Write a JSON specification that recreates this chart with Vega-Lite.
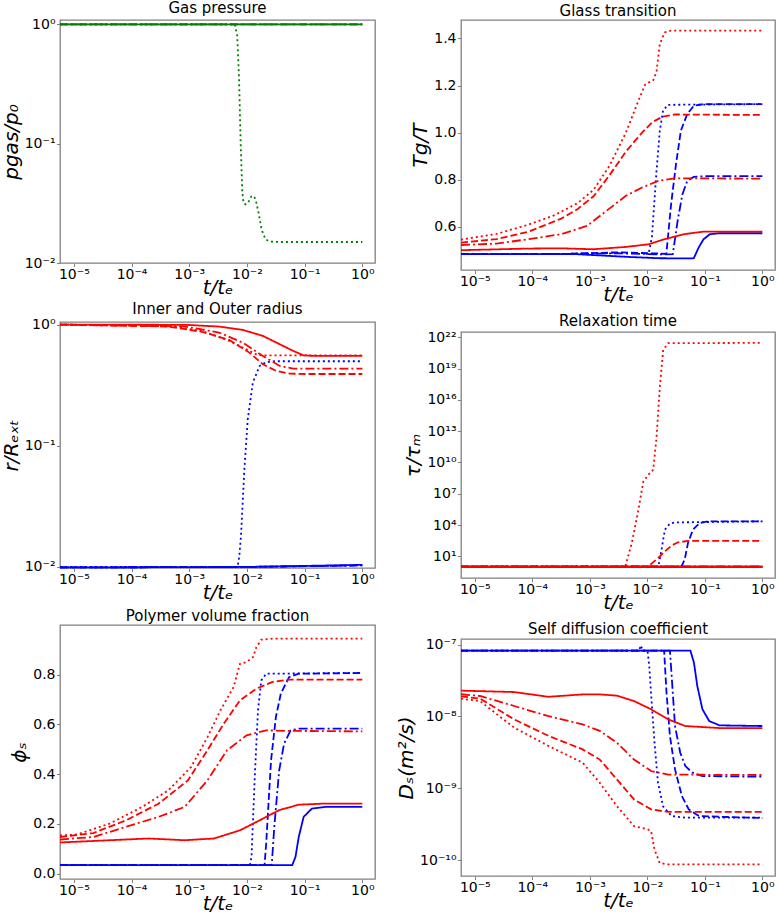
{
"$schema": "https://vega.github.io/schema/vega-lite/v6.json",
"background": "white",
"padding": {"left": 0, "top": 0, "right": 0, "bottom": 0},
"config": {
  "view": {"stroke": "#808080", "strokeWidth": 1.3},
  "axis": {"domain": false, "grid": false, "tickColor": "#808080", "tickSize": 3.5, "tickWidth": 1,
    "labelFont": "DejaVu Sans", "labelFontSize": 14, "labelColor": "black", "labelPadding": 1.5, "labelFlush": false, "labelOverlap": false,
    "titleFont": "DejaVu Sans", "titleFontSize": 20, "titleFontStyle": "italic", "titleFontWeight": "normal", "titleColor": "black"},
  "axisY": {"titlePadding": 3},
  "axisX": {"titlePadding": -4, "labelPadding": 0.5},
  "title": {"font": "DejaVu Sans", "fontSize": 15, "fontWeight": "normal", "offset": 1, "color": "black"},
  "line": {"strokeWidth": 1.8, "clip": true}
},
"datasets": {
  "gas": [
    {"m":"C","k":1,"t":5.75e-6,"v":1},{"m":"C","k":1,"t":1,"v":1},
    {"m":"C","k":2,"t":5.75e-6,"v":1},{"m":"C","k":2,"t":1,"v":1},
    {"m":"C","k":3,"t":5.75e-6,"v":1},{"m":"C","k":3,"t":1,"v":1},
    {"m":"C","k":4,"t":5.75e-6,"v":1},{"m":"C","k":4,"t":0.0062,"v":1},{"m":"C","k":4,"t":0.0068,"v":0.8},{"m":"C","k":4,"t":0.0073,"v":0.35},{"m":"C","k":4,"t":0.0078,"v":0.1},{"m":"C","k":4,"t":0.0083,"v":0.04},{"m":"C","k":4,"t":0.0087,"v":0.032},{"m":"C","k":4,"t":0.0095,"v":0.031},{"m":"C","k":4,"t":0.0105,"v":0.032},{"m":"C","k":4,"t":0.0118,"v":0.036},{"m":"C","k":4,"t":0.013,"v":0.0365},{"m":"C","k":4,"t":0.0142,"v":0.034},{"m":"C","k":4,"t":0.016,"v":0.026},{"m":"C","k":4,"t":0.018,"v":0.019},{"m":"C","k":4,"t":0.021,"v":0.0158},{"m":"C","k":4,"t":0.025,"v":0.0151},{"m":"C","k":4,"t":0.04,"v":0.015},{"m":"C","k":4,"t":1,"v":0.015}
  ],
  "tg": [
    {"m":"B","k":1,"t":5.75e-6,"v":0.484},{"m":"B","k":1,"t":6.07e-4,"v":0.484},{"m":"B","k":1,"t":4.24e-3,"v":0.473},{"m":"B","k":1,"t":0.01549,"v":0.467},{"m":"B","k":1,"t":0.0564,"v":0.466},{"m":"B","k":1,"t":0.0643,"v":0.467},{"m":"B","k":1,"t":0.078,"v":0.512},{"m":"B","k":1,"t":0.0946,"v":0.547},{"m":"B","k":1,"t":0.1227,"v":0.569},{"m":"B","k":1,"t":0.181,"v":0.573},{"m":"B","k":1,"t":1,"v":0.573},
    {"m":"B","k":4,"t":5.75e-6,"v":0.484},{"m":"B","k":4,"t":3.18e-4,"v":0.485},{"m":"B","k":4,"t":3.0e-3,"v":0.49},{"m":"B","k":4,"t":8.09e-3,"v":0.49},{"m":"B","k":4,"t":0.01047,"v":0.484},{"m":"B","k":4,"t":0.012,"v":0.556},{"m":"B","k":4,"t":0.01445,"v":0.838},{"m":"B","k":4,"t":0.01648,"v":1.008},{"m":"B","k":4,"t":0.01875,"v":1.093},{"m":"B","k":4,"t":0.0229,"v":1.118},{"m":"B","k":4,"t":1,"v":1.121},
    {"m":"B","k":2,"t":5.75e-6,"v":0.484},{"m":"B","k":2,"t":3.18e-4,"v":0.485},{"m":"B","k":2,"t":3.0e-3,"v":0.492},{"m":"B","k":2,"t":0.015,"v":0.487},{"m":"B","k":2,"t":0.0214,"v":0.485},{"m":"B","k":2,"t":0.0259,"v":0.696},{"m":"B","k":2,"t":0.0315,"v":0.866},{"m":"B","k":2,"t":0.0383,"v":1.008},{"m":"B","k":2,"t":0.0495,"v":1.079},{"m":"B","k":2,"t":0.0643,"v":1.114},{"m":"B","k":2,"t":0.0946,"v":1.121},{"m":"B","k":2,"t":1,"v":1.121},
    {"m":"B","k":3,"t":5.75e-6,"v":0.484},{"m":"B","k":3,"t":3.18e-4,"v":0.485},{"m":"B","k":3,"t":3.0e-3,"v":0.488},{"m":"B","k":3,"t":0.02,"v":0.483},{"m":"B","k":3,"t":0.0277,"v":0.484},{"m":"B","k":3,"t":0.0336,"v":0.625},{"m":"B","k":3,"t":0.0408,"v":0.739},{"m":"B","k":3,"t":0.0495,"v":0.795},{"m":"B","k":3,"t":0.0643,"v":0.812},{"m":"B","k":3,"t":0.0946,"v":0.815},{"m":"B","k":3,"t":1,"v":0.815},
    {"m":"A","k":4,"t":5.75e-6,"v":0.546},{"m":"A","k":4,"t":2.38e-5,"v":0.57},{"m":"A","k":4,"t":8.69e-5,"v":0.61},{"m":"A","k":4,"t":2.45e-4,"v":0.65},{"m":"A","k":4,"t":6.07e-4,"v":0.7},{"m":"A","k":4,"t":1.16e-3,"v":0.757},{"m":"A","k":4,"t":2.21e-3,"v":0.86},{"m":"A","k":4,"t":4.24e-3,"v":1.0},{"m":"A","k":4,"t":7.11e-3,"v":1.14},{"m":"A","k":4,"t":9.2e-3,"v":1.205},{"m":"A","k":4,"t":0.01274,"v":1.223},{"m":"A","k":4,"t":0.01445,"v":1.26},{"m":"A","k":4,"t":0.01648,"v":1.376},{"m":"A","k":4,"t":0.02,"v":1.425},{"m":"A","k":4,"t":0.0259,"v":1.433},{"m":"A","k":4,"t":1,"v":1.433},
    {"m":"A","k":2,"t":5.75e-6,"v":0.533},{"m":"A","k":2,"t":2.38e-5,"v":0.548},{"m":"A","k":2,"t":8.69e-5,"v":0.58},{"m":"A","k":2,"t":3.18e-4,"v":0.635},{"m":"A","k":2,"t":6.07e-4,"v":0.675},{"m":"A","k":2,"t":1.16e-3,"v":0.73},{"m":"A","k":2,"t":2.21e-3,"v":0.82},{"m":"A","k":2,"t":4.24e-3,"v":0.92},{"m":"A","k":2,"t":8.09e-3,"v":1.0},{"m":"A","k":2,"t":0.0123,"v":1.045},{"m":"A","k":2,"t":0.0185,"v":1.068},{"m":"A","k":2,"t":0.03,"v":1.077},{"m":"A","k":2,"t":1,"v":1.075},
    {"m":"A","k":3,"t":5.75e-6,"v":0.523},{"m":"A","k":3,"t":2.38e-5,"v":0.529},{"m":"A","k":3,"t":8.69e-5,"v":0.548},{"m":"A","k":3,"t":3.18e-4,"v":0.569},{"m":"A","k":3,"t":8.95e-4,"v":0.604},{"m":"A","k":3,"t":1.95e-3,"v":0.668},{"m":"A","k":3,"t":4.24e-3,"v":0.732},{"m":"A","k":3,"t":8.09e-3,"v":0.767},{"m":"A","k":3,"t":0.01549,"v":0.795},{"m":"A","k":3,"t":0.0295,"v":0.806},{"m":"A","k":3,"t":1,"v":0.805},
    {"m":"A","k":1,"t":5.75e-6,"v":0.501},{"m":"A","k":1,"t":8.69e-5,"v":0.508},{"m":"A","k":1,"t":3.18e-4,"v":0.509},{"m":"A","k":1,"t":1.16e-3,"v":0.505},{"m":"A","k":1,"t":4.24e-3,"v":0.515},{"m":"A","k":1,"t":0.01047,"v":0.526},{"m":"A","k":1,"t":0.02,"v":0.548},{"m":"A","k":1,"t":0.0436,"v":0.569},{"m":"A","k":1,"t":0.0946,"v":0.58},{"m":"A","k":1,"t":1,"v":0.58}
  ],
  "rad": [
    {"m":"B","k":1,"t":5.75e-6,"v":0.0099},{"m":"B","k":1,"t":0.01,"v":0.01},{"m":"B","k":1,"t":1,"v":0.0104},
    {"m":"B","k":2,"t":5.75e-6,"v":0.0099},{"m":"B","k":2,"t":0.01,"v":0.01},{"m":"B","k":2,"t":1,"v":0.0103},
    {"m":"B","k":3,"t":5.75e-6,"v":0.0099},{"m":"B","k":3,"t":0.01,"v":0.01},{"m":"B","k":3,"t":1,"v":0.0103},
    {"m":"B","k":4,"t":5.75e-6,"v":0.01},{"m":"B","k":4,"t":6.9e-3,"v":0.01},{"m":"B","k":4,"t":7.38e-3,"v":0.0123},{"m":"B","k":4,"t":7.89e-3,"v":0.018},{"m":"B","k":4,"t":8.44e-3,"v":0.0339},{"m":"B","k":4,"t":9.03e-3,"v":0.064},{"m":"B","k":4,"t":0.01033,"v":0.165},{"m":"B","k":4,"t":0.01265,"v":0.332},{"m":"B","k":4,"t":0.01655,"v":0.455},{"m":"B","k":4,"t":0.02163,"v":0.49},{"m":"B","k":4,"t":0.03,"v":0.498},{"m":"B","k":4,"t":1,"v":0.498},
    {"m":"A","k":1,"t":5.75e-6,"v":1},{"m":"A","k":1,"t":8.57e-4,"v":0.995},{"m":"A","k":1,"t":3.29e-3,"v":0.963},{"m":"A","k":1,"t":8.44e-3,"v":0.904},{"m":"A","k":1,"t":0.01892,"v":0.806},{"m":"A","k":1,"t":0.0371,"v":0.688},{"m":"A","k":1,"t":0.0635,"v":0.606},{"m":"A","k":1,"t":0.095,"v":0.558},{"m":"A","k":1,"t":0.142,"v":0.551},{"m":"A","k":1,"t":1,"v":0.551},
    {"m":"A","k":4,"t":5.75e-6,"v":1},{"m":"A","k":4,"t":4.38e-4,"v":0.975},{"m":"A","k":4,"t":1.68e-3,"v":0.886},{"m":"A","k":4,"t":4.93e-3,"v":0.733},{"m":"A","k":4,"t":8.44e-3,"v":0.646},{"m":"A","k":4,"t":0.01265,"v":0.587},{"m":"A","k":4,"t":0.01546,"v":0.56},{"m":"A","k":4,"t":0.02,"v":0.557},{"m":"A","k":4,"t":1,"v":0.557},
    {"m":"A","k":2,"t":5.75e-6,"v":1},{"m":"A","k":2,"t":4.38e-4,"v":0.963},{"m":"A","k":2,"t":1.68e-3,"v":0.87},{"m":"A","k":2,"t":4.93e-3,"v":0.747},{"m":"A","k":2,"t":0.01104,"v":0.587},{"m":"A","k":2,"t":0.01892,"v":0.47},{"m":"A","k":2,"t":0.0324,"v":0.414},{"m":"A","k":2,"t":0.0555,"v":0.394},{"m":"A","k":2,"t":0.1,"v":0.391},{"m":"A","k":2,"t":1,"v":0.391},
    {"m":"A","k":3,"t":5.75e-6,"v":1},{"m":"A","k":3,"t":8.57e-4,"v":0.963},{"m":"A","k":3,"t":3.29e-3,"v":0.859},{"m":"A","k":3,"t":8.44e-3,"v":0.71},{"m":"A","k":3,"t":0.01892,"v":0.551},{"m":"A","k":3,"t":0.0371,"v":0.455},{"m":"A","k":3,"t":0.0635,"v":0.433},{"m":"A","k":3,"t":1,"v":0.433}
  ],
  "tau": [
    {"m":"B","k":1,"t":5.75e-6,"v":1},{"m":"B","k":1,"t":1,"v":1},
    {"m":"B","k":3,"t":5.75e-6,"v":1},{"m":"B","k":3,"t":1,"v":1},
    {"m":"B","k":4,"t":5.75e-6,"v":1},{"m":"B","k":4,"t":0.01549,"v":1},{"m":"B","k":4,"t":0.01766,"v":43},{"m":"B","k":4,"t":0.02018,"v":3548},{"m":"B","k":4,"t":0.0246,"v":13500},{"m":"B","k":4,"t":0.03,"v":17800},{"m":"B","k":4,"t":1,"v":22400},
    {"m":"B","k":2,"t":5.75e-6,"v":1},{"m":"B","k":2,"t":0.0391,"v":1},{"m":"B","k":2,"t":0.0446,"v":4.8},{"m":"B","k":2,"t":0.0509,"v":186},{"m":"B","k":2,"t":0.0621,"v":3548},{"m":"B","k":2,"t":0.0809,"v":15500},{"m":"B","k":2,"t":0.1127,"v":22400},{"m":"B","k":2,"t":1,"v":22400},
    {"m":"A","k":3,"t":5.75e-6,"v":1},{"m":"A","k":3,"t":1,"v":1},
    {"m":"A","k":4,"t":5.75e-6,"v":1},{"m":"A","k":4,"t":4.12e-3,"v":1},{"m":"A","k":4,"t":5.37e-3,"v":186},{"m":"A","k":4,"t":7.0e-3,"v":2.95e5},{"m":"A","k":4,"t":8.53e-3,"v":1.51e8},{"m":"A","k":4,"t":0.0104,"v":6.6e8},{"m":"A","k":4,"t":0.01268,"v":2.0e9},{"m":"A","k":4,"t":0.01449,"v":3.1e12},{"m":"A","k":4,"t":0.01652,"v":1.9e17},{"m":"A","k":4,"t":0.01888,"v":6.2e20},{"m":"A","k":4,"t":0.023,"v":2.7e21},{"m":"A","k":4,"t":1,"v":2.9e21},
    {"m":"A","k":2,"t":5.75e-6,"v":1},{"m":"A","k":2,"t":9.12e-3,"v":1},{"m":"A","k":2,"t":0.0104,"v":1.1},{"m":"A","k":2,"t":0.01549,"v":6.9},{"m":"A","k":2,"t":0.02018,"v":30},{"m":"A","k":2,"t":0.0263,"v":105},{"m":"A","k":2,"t":0.0342,"v":219},{"m":"A","k":2,"t":0.0509,"v":295},{"m":"A","k":2,"t":1,"v":295},
    {"m":"A","k":1,"t":5.75e-6,"v":1},{"m":"A","k":1,"t":1,"v":1}
  ],
  "phi": [
    {"m":"B","k":1,"t":5.75e-6,"v":0.0335},{"m":"B","k":1,"t":0.061,"v":0.0335},{"m":"B","k":1,"t":0.0695,"v":0.067},{"m":"B","k":1,"t":0.0791,"v":0.147},{"m":"B","k":1,"t":0.0962,"v":0.228},{"m":"B","k":1,"t":0.133,"v":0.261},{"m":"B","k":1,"t":0.224,"v":0.268},{"m":"B","k":1,"t":1,"v":0.268},
    {"m":"B","k":4,"t":5.75e-6,"v":0.0335},{"m":"B","k":4,"t":0.01125,"v":0.0335},{"m":"B","k":4,"t":0.012,"v":0.067},{"m":"B","k":4,"t":0.01367,"v":0.389},{"m":"B","k":4,"t":0.01556,"v":0.657},{"m":"B","k":4,"t":0.01774,"v":0.777},{"m":"B","k":4,"t":0.02155,"v":0.804},{"m":"B","k":4,"t":1,"v":0.807},
    {"m":"B","k":2,"t":5.75e-6,"v":0.0335},{"m":"B","k":2,"t":0.0202,"v":0.0335},{"m":"B","k":2,"t":0.02155,"v":0.12},{"m":"B","k":2,"t":0.0262,"v":0.456},{"m":"B","k":2,"t":0.0318,"v":0.63},{"m":"B","k":2,"t":0.0387,"v":0.724},{"m":"B","k":2,"t":0.0536,"v":0.79},{"m":"B","k":2,"t":0.0791,"v":0.804},{"m":"B","k":2,"t":1,"v":0.807},
    {"m":"B","k":3,"t":5.75e-6,"v":0.0335},{"m":"B","k":3,"t":0.0269,"v":0.0335},{"m":"B","k":3,"t":0.0298,"v":0.188},{"m":"B","k":3,"t":0.0362,"v":0.415},{"m":"B","k":3,"t":0.0441,"v":0.523},{"m":"B","k":3,"t":0.0572,"v":0.576},{"m":"B","k":3,"t":0.0791,"v":0.583},{"m":"B","k":3,"t":1,"v":0.583},
    {"m":"A","k":4,"t":5.75e-6,"v":0.153},{"m":"A","k":4,"t":1.14e-5,"v":0.157},{"m":"A","k":4,"t":4.18e-5,"v":0.201},{"m":"A","k":4,"t":1.53e-4,"v":0.268},{"m":"A","k":4,"t":4.35e-4,"v":0.335},{"m":"A","k":4,"t":1.08e-3,"v":0.429},{"m":"A","k":4,"t":2.07e-3,"v":0.549},{"m":"A","k":4,"t":3.48e-3,"v":0.657},{"m":"A","k":4,"t":5.86e-3,"v":0.75},{"m":"A","k":4,"t":7.6e-3,"v":0.844},{"m":"A","k":4,"t":9.86e-3,"v":0.851},{"m":"A","k":4,"t":0.0128,"v":0.871},{"m":"A","k":4,"t":0.01459,"v":0.911},{"m":"A","k":4,"t":0.01774,"v":0.941},{"m":"A","k":4,"t":0.0279,"v":0.945},{"m":"A","k":4,"t":1,"v":0.945},
    {"m":"A","k":2,"t":5.75e-6,"v":0.147},{"m":"A","k":2,"t":2.18e-5,"v":0.163},{"m":"A","k":2,"t":8.01e-5,"v":0.214},{"m":"A","k":2,"t":2.94e-4,"v":0.281},{"m":"A","k":2,"t":9.49e-4,"v":0.375},{"m":"A","k":2,"t":2.07e-3,"v":0.496},{"m":"A","k":2,"t":3.97e-3,"v":0.603},{"m":"A","k":2,"t":7.6e-3,"v":0.697},{"m":"A","k":2,"t":0.01459,"v":0.744},{"m":"A","k":2,"t":0.0279,"v":0.771},{"m":"A","k":2,"t":0.0536,"v":0.78},{"m":"A","k":2,"t":1,"v":0.78},
    {"m":"A","k":3,"t":5.75e-6,"v":0.137},{"m":"A","k":3,"t":2.18e-5,"v":0.147},{"m":"A","k":3,"t":8.01e-5,"v":0.188},{"m":"A","k":3,"t":2.94e-4,"v":0.228},{"m":"A","k":3,"t":8.34e-4,"v":0.268},{"m":"A","k":3,"t":2.07e-3,"v":0.375},{"m":"A","k":3,"t":4.52e-3,"v":0.496},{"m":"A","k":3,"t":9.86e-3,"v":0.556},{"m":"A","k":3,"t":0.02155,"v":0.576},{"m":"A","k":3,"t":0.0536,"v":0.574},{"m":"A","k":3,"t":1,"v":0.572},
    {"m":"A","k":1,"t":5.75e-6,"v":0.125},{"m":"A","k":1,"t":4.18e-5,"v":0.134},{"m":"A","k":1,"t":1.99e-4,"v":0.141},{"m":"A","k":1,"t":8.34e-4,"v":0.134},{"m":"A","k":1,"t":2.69e-3,"v":0.141},{"m":"A","k":1,"t":7.6e-3,"v":0.174},{"m":"A","k":1,"t":0.0166,"v":0.214},{"m":"A","k":1,"t":0.0362,"v":0.255},{"m":"A","k":1,"t":0.0791,"v":0.277},{"m":"A","k":1,"t":0.197,"v":0.281},{"m":"A","k":1,"t":1,"v":0.281}
  ],
  "ds": [
    {"m":"B","k":1,"t":5.75e-6,"v":8.24e-8},{"m":"B","k":1,"t":0.0562,"v":8.24e-8},{"m":"B","k":1,"t":0.0646,"v":5.62e-8},{"m":"B","k":1,"t":0.074,"v":2.65e-8},{"m":"B","k":1,"t":0.0908,"v":1.26e-8},{"m":"B","k":1,"t":0.119,"v":8.65e-9},{"m":"B","k":1,"t":0.18,"v":7.52e-9},{"m":"B","k":1,"t":1,"v":7.36e-9},
    {"m":"B","k":4,"t":5.75e-6,"v":8.24e-8},{"m":"B","k":4,"t":0.0072,"v":8.24e-8},{"m":"B","k":4,"t":0.0077,"v":9.8e-8},{"m":"B","k":4,"t":0.0083,"v":8.3e-8},{"m":"B","k":4,"t":0.0101,"v":8.2e-8},{"m":"B","k":4,"t":0.0108,"v":5.0e-8},{"m":"B","k":4,"t":0.0116,"v":2.1e-8},{"m":"B","k":4,"t":0.01333,"v":4.32e-9},{"m":"B","k":4,"t":0.01531,"v":1.2e-9},{"m":"B","k":4,"t":0.01879,"v":5.6e-10},{"m":"B","k":4,"t":0.0265,"v":4.1e-10},{"m":"B","k":4,"t":0.0458,"v":3.9e-10},{"m":"B","k":4,"t":1,"v":3.9e-10},
    {"m":"B","k":2,"t":5.75e-6,"v":8.24e-8},{"m":"B","k":2,"t":0.01959,"v":8.24e-8},{"m":"B","k":2,"t":0.02155,"v":2.14e-8},{"m":"B","k":2,"t":0.0247,"v":5.37e-9},{"m":"B","k":2,"t":0.0303,"v":1.83e-9},{"m":"B","k":2,"t":0.0399,"v":7.8e-10},{"m":"B","k":2,"t":0.0525,"v":5.08e-10},{"m":"B","k":2,"t":0.0793,"v":4.1e-10},{"m":"B","k":2,"t":1,"v":3.85e-10},
    {"m":"B","k":3,"t":5.75e-6,"v":8.24e-8},{"m":"B","k":3,"t":0.0247,"v":8.24e-8},{"m":"B","k":3,"t":0.0265,"v":3.66e-8},{"m":"B","k":3,"t":0.0303,"v":7.36e-9},{"m":"B","k":3,"t":0.0373,"v":3.13e-9},{"m":"B","k":3,"t":0.0458,"v":2.04e-9},{"m":"B","k":3,"t":0.0602,"v":1.66e-9},{"m":"B","k":3,"t":0.0908,"v":1.48e-9},{"m":"B","k":3,"t":1,"v":1.45e-9},
    {"m":"A","k":1,"t":5.75e-6,"v":2.29e-8},{"m":"A","k":1,"t":4.84e-5,"v":2.19e-8},{"m":"A","k":1,"t":1.91e-4,"v":1.88e-8},{"m":"A","k":1,"t":7.5e-4,"v":2.03e-8},{"m":"A","k":1,"t":1.49e-3,"v":2.03e-8},{"m":"A","k":1,"t":2.95e-3,"v":1.95e-8},{"m":"A","k":1,"t":5.86e-3,"v":1.64e-8},{"m":"A","k":1,"t":0.01162,"v":1.26e-8},{"m":"A","k":1,"t":0.02307,"v":9.1e-9},{"m":"A","k":1,"t":0.0458,"v":7.36e-9},{"m":"A","k":1,"t":0.18,"v":6.9e-9},{"m":"A","k":1,"t":1,"v":6.9e-9},
    {"m":"A","k":3,"t":5.75e-6,"v":2.04e-8},{"m":"A","k":3,"t":1.23e-5,"v":1.93e-8},{"m":"A","k":3,"t":4.84e-5,"v":1.4e-8},{"m":"A","k":3,"t":1.91e-4,"v":1.01e-8},{"m":"A","k":3,"t":7.5e-4,"v":7.76e-9},{"m":"A","k":3,"t":1.49e-3,"v":6.3e-9},{"m":"A","k":3,"t":2.95e-3,"v":4.32e-9},{"m":"A","k":3,"t":5.86e-3,"v":2.51e-9},{"m":"A","k":3,"t":0.01162,"v":1.74e-9},{"m":"A","k":3,"t":0.02307,"v":1.55e-9},{"m":"A","k":3,"t":1,"v":1.53e-9},
    {"m":"A","k":2,"t":5.75e-6,"v":1.9e-8},{"m":"A","k":2,"t":1.23e-5,"v":1.78e-8},{"m":"A","k":2,"t":4.84e-5,"v":9.1e-9},{"m":"A","k":2,"t":1.91e-4,"v":5.37e-9},{"m":"A","k":2,"t":7.5e-4,"v":3.48e-9},{"m":"A","k":2,"t":1.49e-3,"v":2.51e-9},{"m":"A","k":2,"t":2.95e-3,"v":1.33e-9},{"m":"A","k":2,"t":5.86e-3,"v":7.0e-10},{"m":"A","k":2,"t":0.01162,"v":5.08e-10},{"m":"A","k":2,"t":0.02307,"v":4.68e-10},{"m":"A","k":2,"t":1,"v":4.68e-10},
    {"m":"A","k":4,"t":5.75e-6,"v":1.77e-8},{"m":"A","k":4,"t":1.23e-5,"v":1.64e-8},{"m":"A","k":4,"t":4.84e-5,"v":6.98e-9},{"m":"A","k":4,"t":1.91e-4,"v":3.89e-9},{"m":"A","k":4,"t":7.5e-4,"v":2.27e-9},{"m":"A","k":4,"t":1.49e-3,"v":1.19e-9},{"m":"A","k":4,"t":2.95e-3,"v":5.65e-10},{"m":"A","k":4,"t":5.86e-3,"v":2.98e-10},{"m":"A","k":4,"t":0.01014,"v":2.67e-10},{"m":"A","k":4,"t":0.01162,"v":2.54e-10},{"m":"A","k":4,"t":0.01333,"v":1.41e-10},{"m":"A","k":4,"t":0.01638,"v":9.1e-11},{"m":"A","k":4,"t":0.02307,"v":8.7e-11},{"m":"A","k":4,"t":1,"v":8.7e-11}
  ]
},
"hconcat": [
  {"vconcat": [
    {"title": "Gas pressure", "width": 315, "height": 243, "data": {"name": "gas"}, "mark": "line",
     "encoding": {
       "x": {"field": "t", "type": "quantitative", "scale": {"type": "log", "domain": [5.75e-6, 1.66], "nice": false}, "axis": {"values": [1e-5, 1e-4, 1e-3, 1e-2, 1e-1, 1], "labelExpr": "['10⁻⁵','10⁻⁴','10⁻³','10⁻²','10⁻¹','10⁰'][round(log(datum.value)/LN10)+5]", "title": "t/tₑ"}},
       "y": {"field": "v", "type": "quantitative", "scale": {"type": "log", "domain": [0.01, 1.09], "nice": false}, "axis": {"values": [0.01, 0.1, 1], "labelExpr": "['10⁻²','10⁻¹','10⁰'][round(log(datum.value)/LN10)+2]", "title": "pgas/p₀"}},
       "color": {"field": "m", "type": "nominal", "scale": {"domain": ["A", "B", "C"], "range": ["#ff0000", "#0000ff", "#008000"]}, "legend": null},
       "strokeDash": {"field": "k", "type": "nominal", "scale": {"domain": [1, 2, 3, 4], "range": [[1, 0], [7, 3], [9, 3, 2, 3], [2, 3]]}, "legend": null}
     }},
    {"vconcat": [
    {"title": "Inner and Outer radius", "width": 315, "height": 246, "data": {"name": "rad"}, "mark": "line",
     "encoding": {
       "x": {"field": "t", "type": "quantitative", "scale": {"type": "log", "domain": [5.75e-6, 1.66], "nice": false}, "axis": {"values": [1e-5, 1e-4, 1e-3, 1e-2, 1e-1, 1], "labelExpr": "['10⁻⁵','10⁻⁴','10⁻³','10⁻²','10⁻¹','10⁰'][round(log(datum.value)/LN10)+5]", "title": "t/tₑ"}},
       "y": {"field": "v", "type": "quantitative", "scale": {"type": "log", "domain": [0.0098, 1.05], "nice": false}, "axis": {"values": [0.01, 0.1, 1], "labelExpr": "['10⁻²','10⁻¹','10⁰'][round(log(datum.value)/LN10)+2]", "title": "r/Rₑₓₜ"}},
       "color": {"field": "m", "type": "nominal", "scale": {"domain": ["A", "B", "C"], "range": ["#ff0000", "#0000ff", "#008000"]}, "legend": null},
       "strokeDash": {"field": "k", "type": "nominal", "scale": {"domain": [1, 2, 3, 4], "range": [[1, 0], [7, 3], [9, 3, 2, 3], [2, 3]]}, "legend": null}
     }},
    {"title": "Polymer volume fraction", "width": 315, "height": 254, "data": {"name": "phi"}, "mark": "line",
     "encoding": {
       "x": {"field": "t", "type": "quantitative", "scale": {"type": "log", "domain": [5.75e-6, 1.66], "nice": false}, "axis": {"values": [1e-5, 1e-4, 1e-3, 1e-2, 1e-1, 1], "labelExpr": "['10⁻⁵','10⁻⁴','10⁻³','10⁻²','10⁻¹','10⁰'][round(log(datum.value)/LN10)+5]", "title": "t/tₑ"}},
       "y": {"field": "v", "type": "quantitative", "scale": {"domain": [-0.022, 1.0], "nice": false, "zero": false}, "axis": {"values": [0, 0.2, 0.4, 0.6, 0.8], "format": ".1f", "title": "ϕₛ"}},
       "color": {"field": "m", "type": "nominal", "scale": {"domain": ["A", "B", "C"], "range": ["#ff0000", "#0000ff", "#008000"]}, "legend": null},
       "strokeDash": {"field": "k", "type": "nominal", "scale": {"domain": [1, 2, 3, 4], "range": [[1, 0], [7, 3], [9, 3, 2, 3], [2, 3]]}, "legend": null}
     }}
    ], "spacing": 5, "align": "none"}
  ], "spacing": 2, "align": "none"},
  {"vconcat": [
    {"title": "Glass transition", "width": 314, "height": 250, "data": {"name": "tg"}, "mark": "line",
     "encoding": {
       "x": {"field": "t", "type": "quantitative", "scale": {"type": "log", "domain": [5.75e-6, 1.66], "nice": false}, "axis": {"values": [1e-5, 1e-4, 1e-3, 1e-2, 1e-1, 1], "labelExpr": "['10⁻⁵','10⁻⁴','10⁻³','10⁻²','10⁻¹','10⁰'][round(log(datum.value)/LN10)+5]", "title": "t/tₑ"}},
       "y": {"field": "v", "type": "quantitative", "scale": {"domain": [0.417, 1.478], "nice": false, "zero": false}, "axis": {"values": [0.6, 0.8, 1.0, 1.2, 1.4], "format": ".1f", "title": "Tg/T"}},
       "color": {"field": "m", "type": "nominal", "scale": {"domain": ["A", "B", "C"], "range": ["#ff0000", "#0000ff", "#008000"]}, "legend": null},
       "strokeDash": {"field": "k", "type": "nominal", "scale": {"domain": [1, 2, 3, 4], "range": [[1, 0], [7, 3], [9, 3, 2, 3], [2, 3]]}, "legend": null}
     }},
    {"title": "Relaxation time", "width": 314, "height": 246, "data": {"name": "tau"}, "mark": "line",
     "encoding": {
       "x": {"field": "t", "type": "quantitative", "scale": {"type": "log", "domain": [5.75e-6, 1.66], "nice": false}, "axis": {"values": [1e-5, 1e-4, 1e-3, 1e-2, 1e-1, 1], "labelExpr": "['10⁻⁵','10⁻⁴','10⁻³','10⁻²','10⁻¹','10⁰'][round(log(datum.value)/LN10)+5]", "title": "t/tₑ"}},
       "y": {"field": "v", "type": "quantitative", "scale": {"type": "log", "domain": [0.083, 3.2e22], "nice": false}, "axis": {"values": [10, 1e4, 1e7, 1e10, 1e13, 1e16, 1e19, 1e22], "labelExpr": "['10¹','10⁴','10⁷','10¹⁰','10¹³','10¹⁶','10¹⁹','10²²'][round((round(log(datum.value)/LN10)-1)/3)]", "title": "τ/τₘ"}},
       "color": {"field": "m", "type": "nominal", "scale": {"domain": ["A", "B", "C"], "range": ["#ff0000", "#0000ff", "#008000"]}, "legend": null},
       "strokeDash": {"field": "k", "type": "nominal", "scale": {"domain": [1, 2, 3, 4], "range": [[1, 0], [7, 3], [9, 3, 2, 3], [2, 3]]}, "legend": null}
     }},
    {"title": "Self diffusion coefficient", "width": 314, "height": 237, "data": {"name": "ds"}, "mark": "line",
     "encoding": {
       "x": {"field": "t", "type": "quantitative", "scale": {"type": "log", "domain": [5.75e-6, 1.66], "nice": false}, "axis": {"values": [1e-5, 1e-4, 1e-3, 1e-2, 1e-1, 1], "labelExpr": "['10⁻⁵','10⁻⁴','10⁻³','10⁻²','10⁻¹','10⁰'][round(log(datum.value)/LN10)+5]", "title": "t/tₑ"}},
       "y": {"field": "v", "type": "quantitative", "scale": {"type": "log", "domain": [6.0e-11, 1.2e-7], "nice": false}, "axis": {"values": [1e-10, 1e-9, 1e-8, 1e-7], "labelExpr": "['10⁻¹⁰','10⁻⁹','10⁻⁸','10⁻⁷'][round(log(datum.value)/LN10)+10]", "title": "Dₛ(m²/s)"}},
       "color": {"field": "m", "type": "nominal", "scale": {"domain": ["A", "B", "C"], "range": ["#ff0000", "#0000ff", "#008000"]}, "legend": null},
       "strokeDash": {"field": "k", "type": "nominal", "scale": {"domain": [1, 2, 3, 4], "range": [[1, 0], [7, 3], [9, 3, 2, 3], [2, 3]]}, "legend": null}
     }}
  ], "spacing": 8, "align": "none"}
], "spacing": 19, "align": "none"
}
